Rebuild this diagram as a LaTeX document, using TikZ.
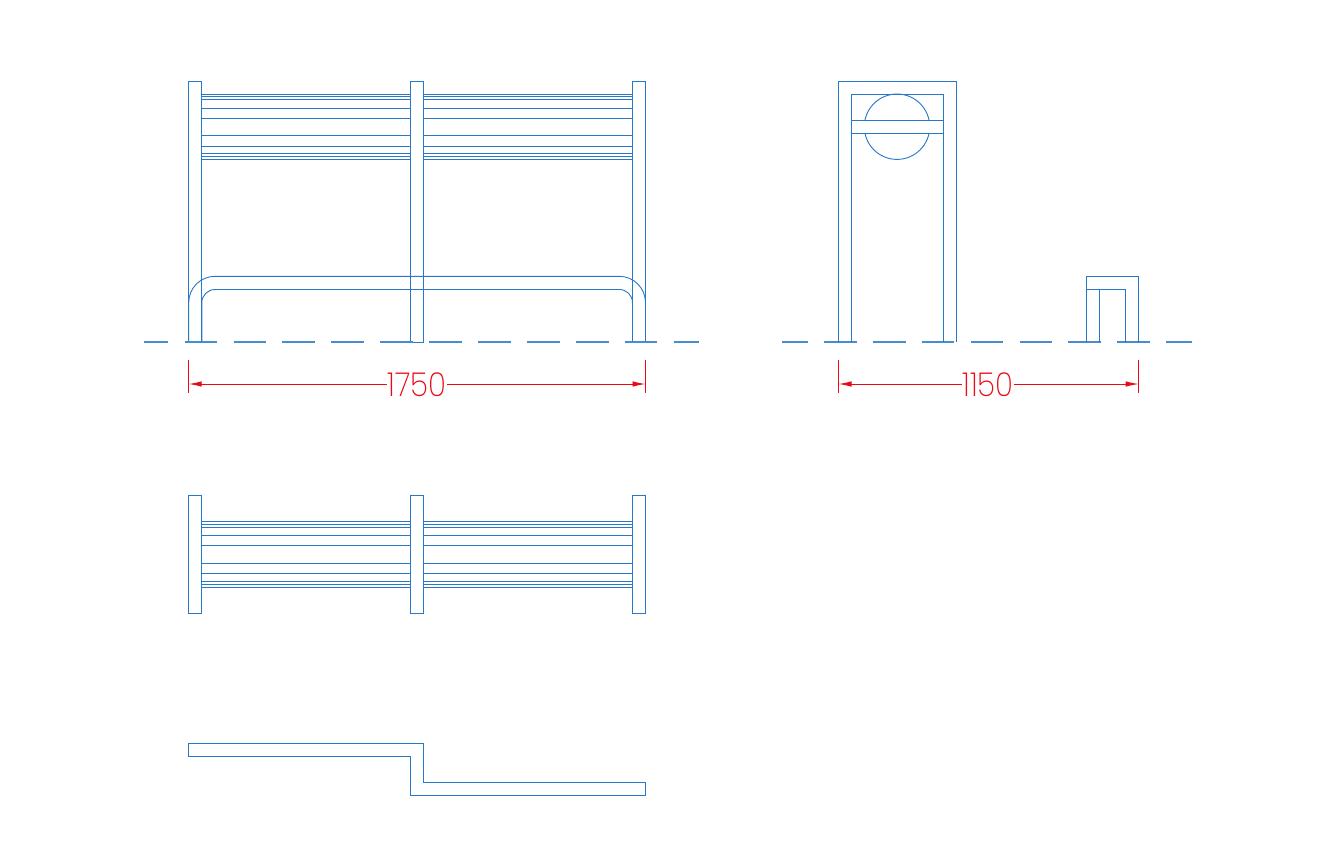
\documentclass[tikz,border=0pt]{standalone}
\usepackage{fontspec}
\usetikzlibrary{arrows.meta}
\newfontfamily\dimfont[UprightFont=* ExtraLight,FakeStretch=.9]{Poppins}
\definecolor{benchblue}{RGB}{40, 120, 200}
\definecolor{dimred}{RGB}{235, 10, 20}
\tikzset{
  benchline/.style={draw=benchblue, line width=0.92pt},
  centerline/.style={draw=benchblue!85, line width=1.1pt, dash pattern=on 32.7pt off 16.2pt},
  dimline/.style={draw=dimred, line width=0.95pt},
  dimtext/.style={text=dimred, inner sep=0pt, font=\dimfont\fontsize{33}{33}\selectfont},
  dimtip/.style={{Latex[length=13pt, width=5.5pt]}-}
}

\begin{document}
\begin{tikzpicture}[x=1pt, y=-1pt]
  \useasboundingbox (0,0) rectangle (1341,863);

  % Front view: rails, posts, hoop
  \foreach \y in {94, 96.3, 99.5, 108, 118, 135.5, 146, 153.7, 156.7, 159} {
    \draw[benchline] (201.8,\y) -- (410.5,\y);
    \draw[benchline] (423.5,\y) -- (632.5,\y);
  }
  \foreach \x in {188.7, 410.5, 632.5} {
    \draw[benchline] (\x,81) rectangle ++(13,261);
  }
  \draw[benchline, rounded corners=26.3pt] (188.7,342) -- (188.7,276.3) -- (645.5,276.3) -- (645.5,342);
  \draw[benchline, rounded corners=13.2pt] (201.8,342) -- (201.8,289.5) -- (632.5,289.5) -- (632.5,342);

  % Ground lines
  \draw[centerline, dash phase=8.3pt] (144,342) -- (699,342);
  \draw[centerline, dash phase=7pt] (782,342) -- (1192,342);

  % Side view
  \draw[benchline] (838.5,342) -- (838.5,81) -- (956,81) -- (956,342);
  \draw[benchline] (851.5,342) -- (851.5,94) -- (943,94) -- (943,342);
  \draw[benchline] (897,126.7) circle (32.7);
  \draw[benchline, fill=white] (851.5,120.3) rectangle (943,133.3);

  % Stool
  \draw[benchline] (1086,342) -- (1086,276.3) -- (1138.7,276.3) -- (1138.7,342);
  \draw[benchline] (1125.7,342) -- (1125.7,289.5) -- (1086,289.5);
  \draw[benchline] (1099.3,289.5) -- (1099.3,342);

  % Dimensions
  \coordinate (frontL) at (188.7,384);
  \coordinate (frontR) at (645.5,384);
  \coordinate (sideL) at (838.5,384);
  \coordinate (sideR) at (1138.7,384);
  \node[dimtext] (dimfront) at (417,384.5) {1750};
  \node[dimtext] (dimside) at (988,384.5) {1150};
  \draw[dimline, dimtip] (frontL) -- (frontL -| dimfront.west);
  \draw[dimline, dimtip] (frontR) -- (frontR -| dimfront.east);
  \draw[dimline, dimtip] (sideL) -- (sideL -| dimside.west);
  \draw[dimline, dimtip] (sideR) -- (sideR -| dimside.east);
  \foreach \p in {frontL, frontR, sideL, sideR} {
    \draw[dimline] ([yshift=24pt]\p) -- ([yshift=-9pt]\p);
  }

  % Top view
  \foreach \y in {521.7, 524, 527.3, 535.3, 545.7, 563.3, 573.3, 581.7, 584.7, 587} {
    \draw[benchline] (201.8,\y) -- (410.5,\y);
    \draw[benchline] (423.5,\y) -- (632.5,\y);
  }
  \foreach \x in {188.7, 410.5, 632.5} {
    \draw[benchline] (\x,495.7) rectangle ++(13,117.6);
  }

  % Plan outline
  \draw[benchline] (188.7,743.5) -- (423.5,743.5) -- (423.5,782.7) -- (645.5,782.7) -- (645.5,795.8)
    -- (410.5,795.8) -- (410.5,756.5) -- (188.7,756.5) -- cycle;
\end{tikzpicture}
\end{document}
